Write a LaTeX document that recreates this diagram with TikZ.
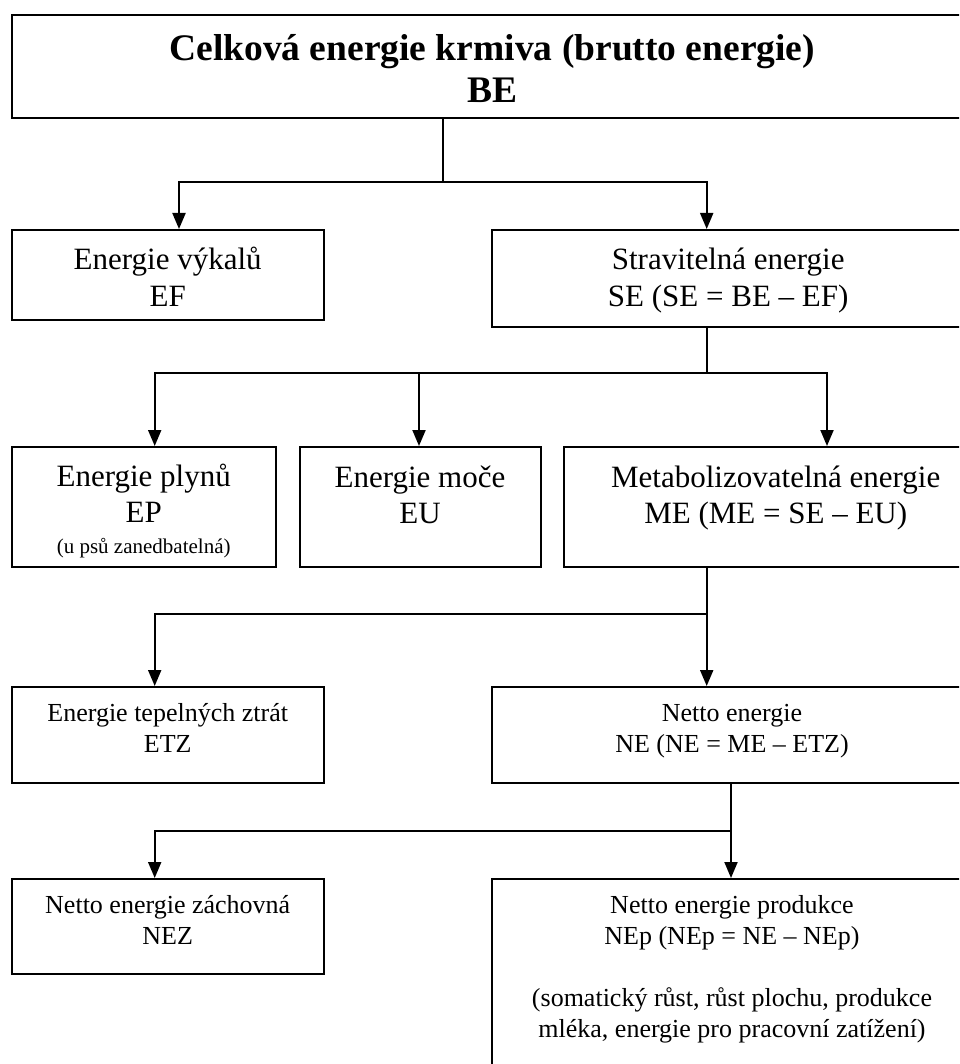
\documentclass[tikz,border=0pt]{standalone}
\usepackage{fontspec}
\setmainfont{Liberation Serif}
\usetikzlibrary{arrows.meta}

\tikzset{
  box/.style={draw, line width=2pt, anchor=north west, align=center, inner sep=0pt},
  conn/.style={line width=2pt},
  arr/.style={conn, -{Triangle[length=16pt,width=13pt]}},
  titlefont/.style={font=\fontsize{37.5}{42}\selectfont\bfseries},
  bigfont/.style={font=\fontsize{31}{36}\selectfont},
  midfont/.style={font=\fontsize{26}{31}\selectfont}
}

\begin{document}
\begin{tikzpicture}[x=1pt, y=-1pt]
  \useasboundingbox (0,0) rectangle (959,1064);
  \clip (0,0) rectangle (959,1064);

  \node[box, titlefont, minimum width=961pt, text height=87.7pt, text depth=15.3pt] (BE) at (10.7,14)
    {Celková energie krmiva (brutto energie)\\BE};

  \node[box, bigfont, minimum width=312pt, text height=76pt, text depth=14pt] (EF) at (10.7,229)
    {Energie výkalů\\EF};
  \node[box, bigfont, minimum width=473pt, text height=76pt, text depth=20.7pt] (SE) at (490.7,229)
    {Stravitelná energie\\SE (SE = BE – EF)};

  \node[box, bigfont, minimum width=264pt, text height=106pt, text depth=14pt] (EP) at (10.7,446)
    {Energie plynů\\EP\\[-5pt]{\fontsize{21}{26}\selectfont (u psů zanedbatelná)}};
  \node[box, bigfont, minimum width=241pt, text height=76.7pt, text depth=43.3pt] (EU) at (298.5,446)
    {Energie moče\\EU};
  \node[box, bigfont, minimum width=424pt, text height=76.7pt, text depth=43.3pt] (ME) at (562.7,446)
    {Metabolizovatelná energie\\ME (ME = SE – EU)};

  \node[box, midfont, minimum width=312pt, text height=65.7pt, text depth=30.3pt] (ETZ) at (10.7,686)
    {Energie tepelných ztrát\\ETZ};
  \node[box, midfont, minimum width=480pt, text height=65.7pt, text depth=30.3pt] (NE) at (491,686)
    {Netto energie\\NE (NE = ME – ETZ)};

  \node[box, midfont, minimum width=312pt, text height=65pt, text depth=30pt] (NEZ) at (10.7,878)
    {Netto energie záchovná\\NEZ};
  \node[box, midfont, minimum width=480pt, text height=158pt, text depth=120pt] (NEp) at (491,878)
    {Netto energie produkce\\NEp (NEp = NE – NEp)\\[31pt](somatický růst, růst plochu, produkce\\mléka, energie pro pracovní zatížení)};

  \coordinate (jBE) at (442.7,181.7);
  \coordinate (aEF) at (179,181.7);
  \coordinate (aSE) at (706.7,181.7);
  \draw[conn] (jBE |- BE.south) -- (jBE);
  \draw[arr] (jBE) -| (aEF |- EF.north);
  \draw[arr] (jBE) -| (aSE |- SE.north);

  \coordinate (jSE) at (706.7,373.3);
  \coordinate (aEP) at (154.7,373.3);
  \coordinate (aEU) at (419,373.3);
  \coordinate (aME) at (827,373.3);
  \draw[conn] (jSE |- SE.south) -- (jSE);
  \draw[arr] (jSE) -| (aEP |- EP.north);
  \draw[arr] (aEU) -- (aEU |- EU.north);
  \draw[arr] (jSE) -| (aME |- ME.north);

  \coordinate (jME) at (706.7,614);
  \coordinate (aETZ) at (154.7,614);
  \draw[arr] (jME |- ME.south) -- (jME |- NE.north);
  \draw[arr] (jME) -| (aETZ |- ETZ.north);

  \coordinate (jNE) at (731,830.7);
  \coordinate (aNEZ) at (154.7,830.7);
  \draw[arr] (jNE |- NE.south) -- (jNE |- NEp.north);
  \draw[arr] (jNE) -| (aNEZ |- NEZ.north);
\end{tikzpicture}
\end{document}
